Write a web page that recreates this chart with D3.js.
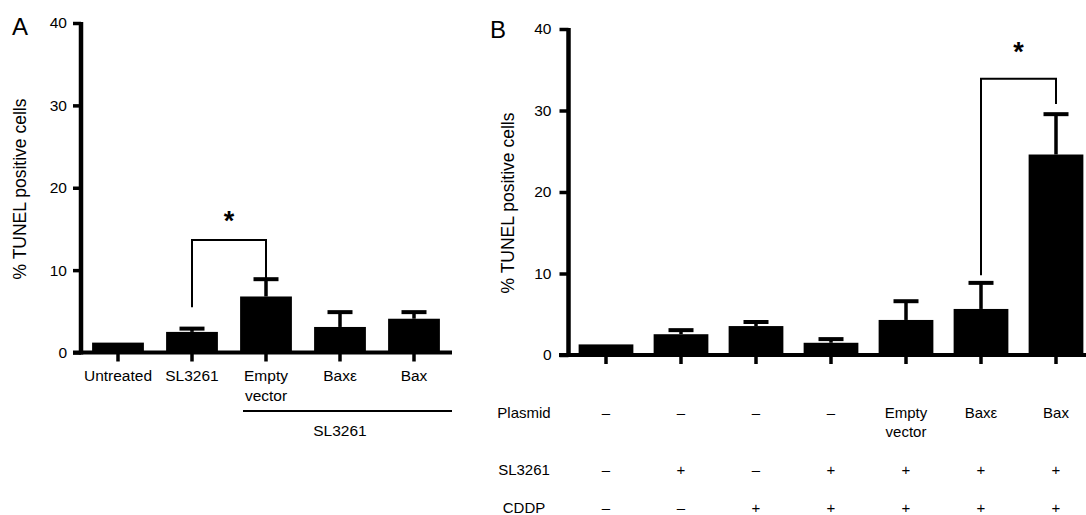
<!DOCTYPE html>
<html>
<head>
<meta charset="utf-8">
<script src="https://cdnjs.cloudflare.com/ajax/libs/d3/7.8.5/d3.min.js"></script>
<style>
  body { margin: 0; background: #fff; }
  text { font-family: "Liberation Sans", Arial, Helvetica, sans-serif; fill: #000; }
</style>
</head>
<body>
<svg id="chart" width="1086" height="515"></svg>
<script>
var width = 1086;
var height = 515;

// panel A
var catsA = ['Untreated', 'SL3261', 'Empty vector', 'Baxε', 'Bax'];
var meansA = [1.2, 2.5, 6.8, 3.1, 4.1];
var errA = [0, 0.4, 2.1, 1.8, 0.8];

// panel B
var catsB = ['g1', 'g2', 'g3', 'g4', 'g5', 'g6', 'g7'];
var meansB = [1.3, 2.55, 3.55, 1.5, 4.3, 5.65, 24.6];
var errB = [0, 0.5, 0.5, 0.45, 2.3, 3.2, 4.95];

var plasmidRow = ['–', '–', '–', '–', 'Empty vector', 'Baxε', 'Bax'];
var slRow = ['–', '+', '–', '+', '+', '+', '+'];
var cddpRow = ['–', '–', '+', '+', '+', '+', '+'];
var rowNames = ['Plasmid', 'SL3261', 'CDDP'];

var yTicks = [0, 10, 20, 30, 40];
var yTitle = '% TUNEL positive cells';

var svg = d3.select('#chart');

function drawPanel(opt) {
    var g = svg.append('g');

    var x = d3.scaleBand()
        .domain(opt.cats)
        .range(opt.xRange)
        .paddingInner(opt.pad)
        .paddingOuter(opt.pad / 2);

    var y = d3.scaleLinear()
        .domain([0, 40])
        .range(opt.yRange);

    // bars
    g.selectAll('rect.bar')
        .data(opt.means)
        .enter()
        .append('rect')
            .attr('class', 'bar')
            .attr('x', function (d, i) { return x(opt.cats[i]); })
            .attr('y', function (d) { return y(d); })
            .attr('width', x.bandwidth())
            .attr('height', function (d) { return y(0) - y(d); })
            .attr('fill', '#000');

    // error bars (upper only)
    var eb = g.selectAll('g.err')
        .data(opt.means.map(function (m, i) { return {c: opt.cats[i], m: m, e: opt.errs[i]}; })
            .filter(function (d) { return d.e > 0; }))
        .enter()
        .append('g');

    eb.append('line')
        .attr('x1', function (d) { return x(d.c) + x.bandwidth() / 2; })
        .attr('x2', function (d) { return x(d.c) + x.bandwidth() / 2; })
        .attr('y1', function (d) { return y(d.m); })
        .attr('y2', function (d) { return y(d.m + d.e); })
        .attr('stroke', '#000')
        .attr('stroke-width', 3.5);

    eb.append('line')
        .attr('x1', function (d) { return x(d.c) + x.bandwidth() / 2 - 12.5; })
        .attr('x2', function (d) { return x(d.c) + x.bandwidth() / 2 + 12.5; })
        .attr('y1', function (d) { return y(d.m + d.e); })
        .attr('y2', function (d) { return y(d.m + d.e); })
        .attr('stroke', '#000')
        .attr('stroke-width', 4);

    // x axis line + ticks under each bar
    g.append('line')
        .attr('x1', opt.xLine[0])
        .attr('x2', opt.xLine[1])
        .attr('y1', y(0))
        .attr('y2', y(0))
        .attr('stroke', '#000')
        .attr('stroke-width', 4);

    g.selectAll('line.xt')
        .data(opt.cats)
        .enter()
        .append('line')
            .attr('class', 'xt')
            .attr('x1', function (d) { return x(d) + x.bandwidth() / 2; })
            .attr('x2', function (d) { return x(d) + x.bandwidth() / 2; })
            .attr('y1', y(0))
            .attr('y2', y(0) + 9)
            .attr('stroke', '#000')
            .attr('stroke-width', 3.5);

    // y axis
    var yAxis = d3.axisLeft(y)
        .tickValues(yTicks)
        .tickSize(opt.tickLen)
        .tickPadding(opt.tickPad);

    var ya = g.append('g')
        .attr('transform', 'translate(' + opt.xRange[0] + ',0)')
        .call(yAxis);
    ya.select('.domain').remove();
    ya.selectAll('.tick line')
        .attr('stroke', '#000')
        .attr('stroke-width', 3.5);
    ya.selectAll('.tick text')
        .attr('font-size', 15.5)
        .attr('font-family', '"Liberation Sans", Arial, sans-serif')
        .attr('fill', '#000');

    g.append('line')
        .attr('x1', opt.xRange[0])
        .attr('x2', opt.xRange[0])
        .attr('y1', y(0) + 2)
        .attr('y2', y(40) - 1)
        .attr('stroke', '#000')
        .attr('stroke-width', 4.5);

    // y title
    g.append('text')
        .attr('transform', 'translate(' + opt.titleX + ',' + opt.titleY + ') rotate(-90)')
        .attr('text-anchor', 'middle')
        .attr('font-size', 17.5)
        .text(yTitle);

    // panel letter
    g.append('text')
        .attr('x', opt.letterPos[0])
        .attr('y', opt.letterPos[1])
        .attr('font-size', 24)
        .text(opt.letter);

    // significance bracket
    var b = opt.bracket;
    var bx1 = x(opt.cats[b.from]) + x.bandwidth() / 2;
    var bx2 = x(opt.cats[b.to]) + x.bandwidth() / 2;
    g.append('path')
        .attr('d', 'M' + bx1 + ',' + y(b.leftEnd) + 'V' + y(b.top) + 'H' + bx2 + 'V' + y(b.rightEnd))
        .attr('fill', 'none')
        .attr('stroke', '#000')
        .attr('stroke-width', 2);

    g.append('text')
        .attr('x', (bx1 + bx2) / 2)
        .attr('y', y(b.star) + 14)
        .attr('text-anchor', 'middle')
        .attr('font-size', 27)
        .attr('font-weight', 'bold')
        .text('*');

    return {g: g, x: x, y: y};
}

var pA = drawPanel({
    cats: catsA, means: meansA, errs: errA,
    xRange: [81, 451], yRange: [352.5, 23], pad: 0.3,
    xLine: [73, 452], tickLen: 8, tickPad: 6,
    titleX: 26, titleY: 189, letter: 'A', letterPos: [12, 35],
    bracket: {from: 1, to: 2, top: 13.65, leftEnd: 5.5, rightEnd: 9.0, star: 16.6}
});

var pB = drawPanel({
    cats: catsB, means: meansB, errs: errB,
    xRange: [568.5, 1093.5], yRange: [355, 29], pad: 0.27,
    xLine: [559, 1086], tickLen: 9, tickPad: 8,
    titleX: 514, titleY: 203, letter: 'B', letterPos: [490, 38],
    bracket: {from: 5, to: 6, top: 33.9, leftEnd: 9.8, rightEnd: 30.8, star: 37.8}
});

// panel A category labels
pA.g.selectAll('text.cat')
    .data(catsA)
    .enter()
    .append('text')
        .attr('class', 'cat')
        .attr('text-anchor', 'middle')
        .attr('font-size', 15.5)
        .attr('x', function (d) { return pA.x(d) + pA.x.bandwidth() / 2; })
        .attr('y', 381)
        .each(function (d) {
            var parts = d === 'Empty vector' ? ['Empty', 'vector'] : [d];
            var t = d3.select(this);
            var cx = t.attr('x');
            parts.forEach(function (p, k) {
                t.append('tspan').attr('x', cx).attr('dy', k === 0 ? 0 : 20).text(p);
            });
        });

// SL3261 group line under the last three
pA.g.append('line')
    .attr('x1', 243)
    .attr('x2', 452)
    .attr('y1', 411)
    .attr('y2', 411)
    .attr('stroke', '#000')
    .attr('stroke-width', 2.2);

pA.g.append('text')
    .attr('x', pA.x('Baxε') + pA.x.bandwidth() / 2)
    .attr('y', 436)
    .attr('text-anchor', 'middle')
    .attr('font-size', 15.5)
    .text('SL3261');

// panel B treatment table
var rows = [plasmidRow, slRow, cddpRow];
var rowY = [418, 475, 513];

rows.forEach(function (row, r) {
    pB.g.append('text')
        .attr('x', 524)
        .attr('y', rowY[r])
        .attr('text-anchor', 'middle')
        .attr('font-size', 15)
        .text(rowNames[r]);

    pB.g.selectAll('text.r' + r)
        .data(row)
        .enter()
        .append('text')
            .attr('class', 'r' + r)
            .attr('text-anchor', 'middle')
            .attr('font-size', 15)
            .attr('x', function (d, i) { return pB.x(catsB[i]) + pB.x.bandwidth() / 2; })
            .attr('y', rowY[r])
            .each(function (d) {
                var parts = d === 'Empty vector' ? ['Empty', 'vector'] : [d];
                var t = d3.select(this);
                var cx = t.attr('x');
                parts.forEach(function (p, k) {
                    t.append('tspan').attr('x', cx).attr('dy', k === 0 ? 0 : 19).text(p);
                });
            });
});
</script>
</body>
</html>
